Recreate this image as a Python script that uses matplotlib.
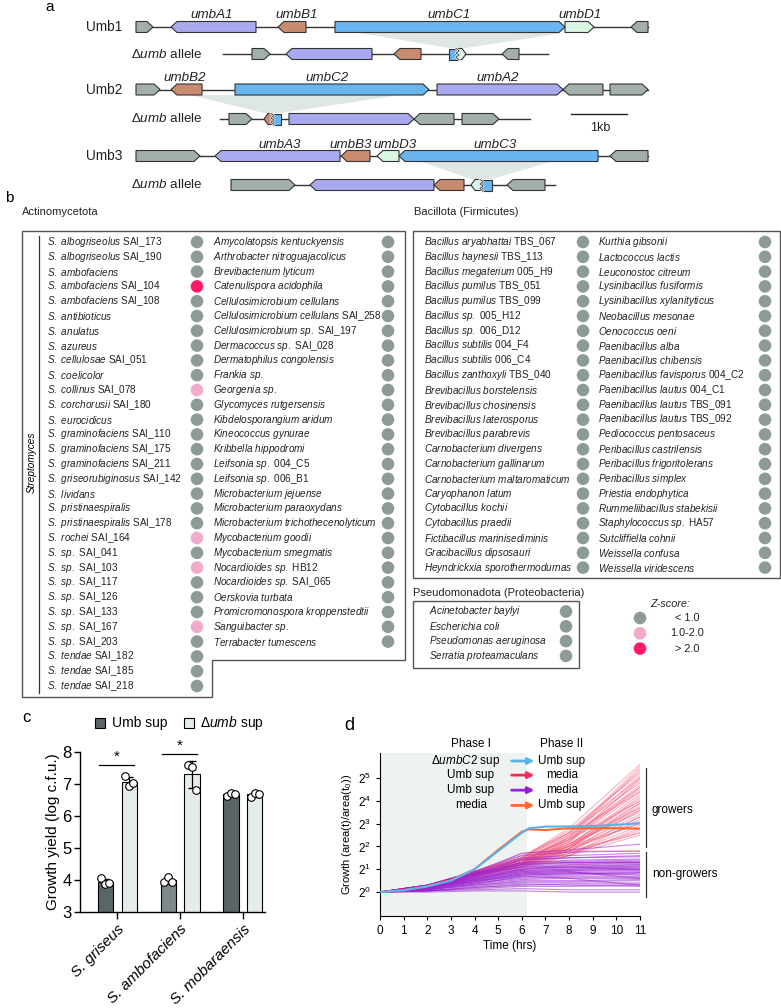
import numpy as np
import matplotlib
matplotlib.use('Agg')
from matplotlib import pyplot as plt
from matplotlib.patches import Polygon, Rectangle

plt.rcParams['font.family'] = ['Liberation Sans', 'DejaVu Sans']
plt.rcParams['mathtext.fontset'] = 'custom'
plt.rcParams['mathtext.rm'] = 'Liberation Sans'
plt.rcParams['mathtext.it'] = 'Liberation Sans:italic'
plt.rcParams['mathtext.bf'] = 'Liberation Sans:bold'

# ---------------- panel a: gene maps (start, end, direction, gene type) ----------------
umb1_genes = [(136, 153, 1, 'x'), (171, 256, -1, 'A'), (278, 306, -1, 'B'),
              (335, 565, 1, 'C'), (565, 594, 1, 'D'), (631, 648, -1, 'x')]
umb1_labels = [('umbA1', 212), ('umbB1', 297), ('umbC1', 449), ('umbD1', 580)]
del1_genes = [(252, 270, 1, 'x'), (286, 372, -1, 'A'), (394, 421, -1, 'B'), (502, 519, -1, 'x')]
del1_fused = (449, 466, 'C', 'D', 1)

umb2_genes = [(136, 160, 1, 'x'), (171, 202, -1, 'B'), (235, 429, 1, 'C'),
              (437, 563, 1, 'A'), (563, 603, -1, 'x'), (610, 648, 1, 'x')]
umb2_labels = [('umbB2', 185), ('umbC2', 327), ('umbA2', 498)]
del2_genes = [(229, 252, 1, 'x'), (289, 414, 1, 'A'), (414, 454, -1, 'x'), (462, 499, 1, 'x')]
del2_fused = (264, 281, 'B', 'C', -1)

umb3_genes = [(136, 200, 1, 'x'), (215, 340, -1, 'A'), (341, 370, -1, 'B'),
              (377, 399, -1, 'D'), (399, 598, -1, 'C'), (610, 648, -1, 'x')]
umb3_labels = [('umbA3', 280), ('umbB3', 351), ('umbD3', 395), ('umbC3', 495)]
del3_genes = [(231, 295, 1, 'x'), (310, 434, -1, 'A'), (434, 464, -1, 'B'), (507, 545, -1, 'x')]
del3_fused = (471, 492, 'D', 'C', -1)

gene_colors = {'x': '#a3afac', 'A': '#a9a9ef', 'B': '#c98b6f', 'C': '#69b5f0', 'D': '#d9f5e4'}

# ---------------- panel b: species screen ----------------
actino_left = [("S. albogriseolus", "SAI_173"), ("S. albogriseolus", "SAI_190"), ("S. ambofaciens", ""),
               ("S. ambofaciens", "SAI_104"), ("S. ambofaciens", "SAI_108"), ("S. antibioticus", ""),
               ("S. anulatus", ""), ("S. azureus", ""), ("S. cellulosae", "SAI_051"), ("S. coelicolor", ""),
               ("S. collinus", "SAI_078"), ("S. corchorusii", "SAI_180"), ("S. eurocidicus", ""),
               ("S. graminofaciens", "SAI_110"), ("S. graminofaciens", "SAI_175"),
               ("S. graminofaciens", "SAI_211"), ("S. griseorubiginosus", "SAI_142"), ("S. lividans", ""),
               ("S. pristinaespiralis", ""), ("S. pristinaespiralis", "SAI_178"), ("S. rochei", "SAI_164"),
               ("S. sp.", "SAI_041"), ("S. sp.", "SAI_103"), ("S. sp.", "SAI_117"), ("S. sp.", "SAI_126"),
               ("S. sp.", "SAI_133"), ("S. sp.", "SAI_167"), ("S. sp.", "SAI_203"),
               ("S. tendae", "SAI_182"), ("S. tendae", "SAI_185"), ("S. tendae", "SAI_218")]
actino_left_z = [0, 0, 0, 2, 0, 0, 0, 0, 0, 0, 1, 0, 0, 0, 0, 0, 0, 0, 0, 0, 1, 0, 1, 0, 0, 0, 1, 0, 0, 0, 0]
actino_right = [("Amycolatopsis kentuckyensis", ""), ("Arthrobacter nitroguajacolicus", ""),
                ("Brevibacterium lyticum", ""), ("Catenulispora acidophila", ""),
                ("Cellulosimicrobium cellulans", ""), ("Cellulosimicrobium cellulans", "SAI_258"),
                ("Cellulosimicrobium sp.", "SAI_197"), ("Dermacoccus sp.", "SAI_028"),
                ("Dermatophilus congolensis", ""), ("Frankia sp.", ""), ("Georgenia sp.", ""),
                ("Glycomyces rutgersensis", ""), ("Kibdelosporangium aridum", ""), ("Kineococcus gynurae", ""),
                ("Kribbella hippodromi", ""), ("Leifsonia sp.", "004_C5"), ("Leifsonia sp.", "006_B1"),
                ("Microbacterium jejuense", ""), ("Microbacterium paraoxydans", ""),
                ("Microbacterium trichothecenolyticum", ""), ("Mycobacterium goodii", ""),
                ("Mycobacterium smegmatis", ""), ("Nocardioides sp.", "HB12"), ("Nocardioides sp.", "SAI_065"),
                ("Oerskovia turbata", ""), ("Promicromonospora kroppenstedtii", ""), ("Sanguibacter sp.", ""),
                ("Terrabacter tumescens", "")]
actino_right_z = [0] * 28
bacillota_left = [("Bacillus aryabhattai", "TBS_067"), ("Bacillus haynesii", "TBS_113"),
                  ("Bacillus megaterium", "005_H9"), ("Bacillus pumilus", "TBS_051"),
                  ("Bacillus pumilus", "TBS_099"), ("Bacillus sp.", "005_H12"), ("Bacillus sp.", "006_D12"),
                  ("Bacillus subtilis", "004_F4"), ("Bacillus subtilis", "006_C4"),
                  ("Bacillus zanthoxyli", "TBS_040"), ("Brevibacillus borstelensis", ""),
                  ("Brevibacillus chosinensis", ""), ("Brevibacillus laterosporus", ""),
                  ("Brevibacillus parabrevis", ""), ("Carnobacterium divergens", ""),
                  ("Carnobacterium gallinarum", ""), ("Carnobacterium maltaromaticum", ""),
                  ("Caryophanon latum", ""), ("Cytobacillus kochii", ""), ("Cytobacillus praedii", ""),
                  ("Fictibacillus marinisediminis", ""), ("Gracibacillus dipsosauri", ""),
                  ("Heyndrickxia sporothermodurnas", "")]
bacillota_left_z = [0] * 23
bacillota_right = [("Kurthia gibsonii", ""), ("Lactococcus lactis", ""), ("Leuconostoc citreum", ""),
                   ("Lysinibacillus fusiformis", ""), ("Lysinibacillus xylanityticus", ""),
                   ("Neobacillus mesonae", ""), ("Oenococcus oeni", ""), ("Paenibacillus alba", ""),
                   ("Paenibacillus chibensis", ""), ("Paenibacillus favisporus", "004_C2"),
                   ("Paenibacillus lautus", "004_C1"), ("Paenibacillus lautus", "TBS_091"),
                   ("Paenibacillus lautus", "TBS_092"), ("Pediococcus pentosaceus", ""),
                   ("Peribacillus castrilensis", ""), ("Peribacillus frigoritolerans", ""),
                   ("Peribacillus simplex", ""), ("Priestia endophytica", ""),
                   ("Rummeliibacillus stabekisii", ""), ("Staphylococcus sp.", "HA57"),
                   ("Sutcliffiella cohnii", ""), ("Weissella confusa", ""), ("Weissella viridescens", "")]
bacillota_right_z = [0] * 23
pseudo = [("Acinetobacter baylyi", ""), ("Escherichia coli", ""), ("Pseudomonas aeruginosa", ""),
          ("Serratia proteamaculans", "")]
pseudo_z = [0] * 4
z_labels = ['< 1.0', '1.0-2.0', '> 2.0']
z_colors = ['#8d9b98', '#f2aacb', '#ff1a66']

# ---------------- panel c: growth yield ----------------
strains = ['S. griseus', 'S. ambofaciens', 'S. mobaraensis']
umb_reps = [[4.05, 3.87, 3.92], [3.95, 4.10, 3.95], [6.62, 6.73, 6.68]]
del_reps = [[7.25, 6.95, 7.02], [7.58, 7.52, 6.82], [6.60, 6.73, 6.69]]
umb_bar_colors = ['#5c6566', '#7d898a', '#5c6566']

# ---------------- panel d: single-colony growth (log2 of area ratio) ----------------
t_pts = [0, 2, 4, 6, 8, 11]
growers = [
    [0, .30, .90, 1.5, 2.8, 5.6], [0, .25, .80, 1.4, 2.6, 5.3], [0, .30, .85, 1.3, 2.4, 5.1],
    [0, .20, .70, 1.2, 2.3, 4.9], [0, .30, .90, 1.6, 2.6, 4.8], [0, .25, .75, 1.3, 2.2, 4.6],
    [0, .20, .80, 1.4, 2.3, 4.5], [0, .30, .85, 1.2, 2.0, 4.3], [0, .25, .70, 1.1, 1.9, 4.2],
    [0, .30, .90, 1.5, 2.3, 4.0], [0, .20, .75, 1.3, 2.0, 3.9], [0, .25, .80, 1.2, 1.9, 3.8],
    [0, .30, .70, 1.1, 1.8, 3.6], [0, .20, .80, 1.4, 2.1, 3.5], [0, .25, .85, 1.3, 1.9, 3.4],
    [0, .30, .75, 1.2, 1.8, 3.3], [0, .20, .70, 1.0, 1.6, 3.2], [0, .25, .80, 1.3, 1.8, 3.1],
    [0, .30, .90, 1.5, 2.0, 3.0], [0, .20, .75, 1.2, 1.7, 2.9], [0, .25, .70, 1.1, 1.6, 2.8],
    [0, .30, .80, 1.3, 1.7, 2.7], [0, .20, .85, 1.4, 1.8, 2.6], [0, .25, .70, 1.2, 1.6, 2.5],
    [0, .30, .80, 1.4, 2.2, 5.0], [0, .20, .75, 1.3, 2.4, 5.4], [0, .25, .90, 1.5, 2.5, 4.4],
    [0, .30, .80, 1.2, 2.1, 4.1], [0, .20, .70, 1.3, 2.1, 3.7], [0, .25, .85, 1.4, 2.0, 3.6],
    [0, .25, .80, 1.3, 2.5, 5.5], [0, .30, .85, 1.4, 2.3, 4.7], [0, .20, .75, 1.2, 1.9, 3.9],
    [0, .25, .85, 1.5, 2.7, 5.2], [0, .30, .80, 1.4, 2.4, 4.6], [0, .20, .70, 1.2, 2.2, 4.4],
    [0, .25, .75, 1.3, 2.1, 4.0], [0, .30, .85, 1.3, 2.0, 3.7], [0, .20, .80, 1.2, 1.8, 3.3],
    [0, .25, .75, 1.4, 1.9, 3.0], [0, .30, .80, 1.5, 2.6, 5.0], [0, .20, .70, 1.1, 1.7, 2.6],
    [0, .20, .60, 1.0, 1.2, 1.3], [0, .30, .80, 1.7, 1.8, 1.8], [0, .25, .70, 1.25, 1.3, 1.3],
]
non_growers = [
    [0, .30, .90, 1.6, 1.75, 1.8], [0, .25, .85, 1.5, 1.6, 1.7], [0, .30, .80, 1.4, 1.5, 1.55],
    [0, .20, .75, 1.3, 1.4, 1.45], [0, .25, .70, 1.2, 1.3, 1.35], [0, .20, .70, 1.15, 1.2, 1.25],
    [0, .30, .80, 1.1, 1.15, 1.2], [0, .20, .65, 1.0, 1.1, 1.1], [0, .25, .60, .95, 1.0, 1.05],
    [0, .20, .60, .90, .95, 1.0], [0, .15, .55, .85, .90, .95], [0, .20, .50, .80, .85, .90],
    [0, .15, .50, .75, .80, .85], [0, .20, .45, .70, .75, .80], [0, .10, .40, .65, .70, .70],
    [0, .15, .40, .60, .65, .65], [0, .10, .35, .55, .60, .60], [0, .10, .30, .50, .50, .55],
    [0, .10, .30, .45, .45, .50], [0, .05, .25, .40, .40, .40], [0, .05, .20, .30, .35, .35],
    [0, .05, .15, .25, .25, .30], [0, .05, .10, .15, .10, .10], [0, 0, .05, .05, 0, 0],
    [0, .25, .80, 1.3, 1.35, 1.4], [0, .20, .75, 1.25, 1.3, 1.3], [0, .30, .90, 1.7, 1.85, 2.1],
    [0, .20, .60, 1.0, 1.05, 1.15], [0, .25, .70, 1.1, 1.1, 1.2], [0, .15, .55, .90, .95, 1.0],
    [0, .20, .65, 1.05, 1.1, 1.0], [0, .10, .45, .80, .85, .75], [0, .15, .50, .85, .90, .60],
    [0, .10, .35, .70, .60, .30], [0, .30, .85, 1.2, 1.25, 1.3], [0, .20, .55, .95, 1.0, 1.1],
    [0, .25, .80, 1.45, 1.5, 1.6], [0, .15, .45, .75, .80, .85], [0, .05, .20, .35, .30, .25],
]
t_ctrl = [0, 1, 2, 3, 4, 5, 6, 6.3, 7, 8, 9, 10, 11]
blue_trace = [0, .08, .25, .50, 1.0, 1.8, 2.6, 2.8, 2.87, 2.88, 2.9, 2.95, 3.02]
orange_trace = [0, .08, .25, .52, 1.0, 1.85, 2.65, 2.75, 2.72, 2.8, 2.8, 2.8, 2.78]
phase_rows = [(r'$\Delta\mathit{umbC2}$ sup', 'Umb sup', '#5ab4ea'),
              ('Umb sup', 'media', '#ff2a5c'),
              ('Umb sup', 'media', '#9a1fd6'),
              ('media', 'Umb sup', '#ff6a2a')]


def it(s):
    return '$\\mathit{' + s.replace(' ', '\\ ') + '}$'


def gene_poly(ax, x0, x1, y, d, color, h=11):
    hl = min(6, (x1 - x0) * 0.4)
    if d > 0:
        pts = [(x0, y - h / 2), (x1 - hl, y - h / 2), (x1, y), (x1 - hl, y + h / 2), (x0, y + h / 2)]
    else:
        pts = [(x1, y - h / 2), (x0 + hl, y - h / 2), (x0, y), (x0 + hl, y + h / 2), (x1, y + h / 2)]
    ax.add_patch(Polygon(pts, closed=True, facecolor=color, edgecolor='#333333', lw=0.8, zorder=3))


def fused(ax, spec, y, h=11):
    x0, x1, c_left, c_right, d = spec
    xm = (x0 + x1) / 2
    hl = 4
    if d > 0:
        left = [(x0, y - h / 2), (xm, y - h / 2), (xm, y + h / 2), (x0, y + h / 2)]
        right = [(xm, y - h / 2), (x1 - hl, y - h / 2), (x1, y), (x1 - hl, y + h / 2), (xm, y + h / 2)]
    else:
        left = [(xm, y - h / 2), (x0 + hl, y - h / 2), (x0, y), (x0 + hl, y + h / 2), (xm, y + h / 2)]
        right = [(xm, y - h / 2), (x1, y - h / 2), (x1, y + h / 2), (xm, y + h / 2)]
    ax.add_patch(Polygon(left, closed=True, facecolor=gene_colors[c_left], edgecolor='#333333', lw=0.8, zorder=3))
    ax.add_patch(Polygon(right, closed=True, facecolor=gene_colors[c_right], edgecolor='#333333', lw=0.8, zorder=3))
    zy = np.linspace(y - h / 2, y + h / 2, 6)
    zx = [xm + (1.6 if k % 2 else -1.6) for k in range(6)]
    ax.plot(zx, zy, color='white', lw=1.6, zorder=4)
    ax.plot(zx, zy, color='#333333', lw=0.6, zorder=5)


def gene_row(ax, genes, y, x_from, x_to):
    ax.plot([x_from, x_to], [y, y], color='#333333', lw=1, zorder=2)
    for (x0, x1, d, g) in genes:
        gene_poly(ax, x0, x1, y, d, gene_colors[g])


def species_col(ax, names, zs, x_text, x_dot, y0, dy=14.8):
    for i, ((a, b), z) in enumerate(zip(names, zs)):
        y = y0 + i * dy
        lab = it(a) + (' ' + b if b else '')
        ax.text(x_text, y, lab, fontsize=7.2, va='center', ha='left', color='#222222')
        ax.scatter([x_dot], [y], s=82, color=z_colors[z], edgecolors='none', zorder=3)


fig = plt.figure(figsize=(7.81, 10.08), dpi=100)
ax0 = fig.add_axes([0, 0, 1, 1])
ax0.set_xlim(0, 781)
ax0.set_ylim(1008, 0)
ax0.axis('off')

# ---- panel a ----
ax0.text(50, 7, 'a', fontsize=11, va='center', ha='center')
shade_color = '#dfe7e4'
for pts in ([(360, 33), (563, 33), (466, 48), (449, 48)],
            [(190, 95), (400, 95), (281, 113), (264, 113)],
            [(422, 162), (550, 162), (492, 179), (471, 179)]):
    ax0.add_patch(Polygon(pts, closed=True, facecolor=shade_color, edgecolor='none', zorder=1))

gene_row(ax0, umb1_genes, 27, 136, 648)
gene_row(ax0, del1_genes, 54, 223, 548)
fused(ax0, del1_fused, 54)
gene_row(ax0, umb2_genes, 89.5, 136, 648)
gene_row(ax0, del2_genes, 119, 220, 530)
fused(ax0, del2_fused, 119)
gene_row(ax0, umb3_genes, 156, 136, 648)
gene_row(ax0, del3_genes, 185, 231, 555)
fused(ax0, del3_fused, 185)

for lab_list, y in ((umb1_labels, 14.5), (umb2_labels, 78), (umb3_labels, 145)):
    for name, x in lab_list:
        ax0.text(x, y, name, fontsize=9.6, style='italic', ha='center', va='center', color='#222222')
for name, y in (('Umb1', 27), ('Umb2', 89.5), ('Umb3', 156)):
    ax0.text(122, y, name, fontsize=9.8, ha='right', va='center', color='#222222')
for y in (54, 119, 185):
    ax0.text(202, y, r'$\Delta\mathit{umb}$ allele', fontsize=9.6, ha='right', va='center', color='#222222')
ax0.plot([571, 627], [114, 114], color='#222222', lw=1)
ax0.text(600, 128, '1kb', fontsize=9, ha='center', va='center', color='#222222')

# ---- panel b ----
ax0.text(5, 198, 'b', fontsize=11, va='center', ha='left')
ax0.text(22, 212, 'Actinomycetota', fontsize=8, va='center', ha='left', color='#222222')
ax0.text(414, 212, 'Bacillota (Firmicutes)', fontsize=8, va='center', ha='left', color='#222222')
ax0.add_patch(Polygon([(22, 231), (405, 231), (405, 660), (212, 660), (212, 697), (22, 697)],
                      closed=True, facecolor='none', edgecolor='#555555', lw=1))
ax0.add_patch(Rectangle((413, 231), 367, 347, facecolor='none', edgecolor='#555555', lw=1))
ax0.plot([39, 39], [236, 693], color='#333333', lw=0.9)
ax0.text(32, 462, 'Streptomyces', fontsize=7.2, style='italic', rotation=90, ha='center', va='center')
species_col(ax0, actino_left, actino_left_z, 47, 197, 242)
species_col(ax0, actino_right, actino_right_z, 213, 388, 242)
species_col(ax0, bacillota_left, bacillota_left_z, 424, 583, 242)
species_col(ax0, bacillota_right, bacillota_right_z, 598, 765, 242)
ax0.text(413, 593, 'Pseudomonadota (Proteobacteria)', fontsize=8, va='center', ha='left', color='#222222')
ax0.add_patch(Rectangle((413, 601), 166, 67, facecolor='none', edgecolor='#555555', lw=1))
species_col(ax0, pseudo, pseudo_z, 429, 566, 611.5)
ax0.text(670, 604, 'Z-score:', fontsize=7.8, style='italic', ha='center', va='center', color='#222222')
for k, (lab, col) in enumerate(zip(z_labels, z_colors)):
    y = 618 + k * 15.3
    ax0.scatter([640], [y], s=82, color=col, edgecolors='none')
    ax0.text(687, y, lab, fontsize=7.8, ha='center', va='center', color='#222222')

# ---- panel c ----
ax0.text(22, 718, 'c', fontsize=12, va='center', ha='left')
ax0.add_patch(Rectangle((95, 718), 10, 10, facecolor='#5c6566', edgecolor='black', lw=0.8))
ax0.text(112, 723, 'Umb sup', fontsize=10, va='center', ha='left')
ax0.add_patch(Rectangle((184, 718), 10, 10, facecolor='#e6ecea', edgecolor='black', lw=0.8))
ax0.text(200, 723, r'$\Delta\mathit{umb}$ sup', fontsize=10, va='center', ha='left')

axc = fig.add_axes([80 / 781, (1008 - 912) / 1008, 185 / 781, 160 / 1008])
xg = np.arange(len(strains))
bw = 0.24
off = 0.19
umb_mean = [np.mean(r) for r in umb_reps]
del_mean = [np.mean(r) for r in del_reps]
umb_sd = [np.std(r, ddof=1) for r in umb_reps]
del_sd = [np.std(r, ddof=1) for r in del_reps]
axc.bar(xg - off, umb_mean, bw, color=umb_bar_colors, edgecolor='black', lw=0.8, zorder=2)
axc.bar(xg + off, del_mean, bw, color='#e6ecea', edgecolor='black', lw=0.8, zorder=2)
axc.errorbar(xg - off, umb_mean, yerr=umb_sd, fmt='none', ecolor='black', elinewidth=0.9, capsize=3, zorder=3)
axc.errorbar(xg + off, del_mean, yerr=del_sd, fmt='none', ecolor='black', elinewidth=0.9, capsize=3, zorder=3)
jit = [-0.06, 0.0, 0.06]
for i in range(len(strains)):
    axc.scatter(i - off + np.array(jit), umb_reps[i], s=30, facecolor='white', edgecolor='black', lw=0.8, zorder=4)
    axc.scatter(i + off + np.array(jit), del_reps[i], s=30, facecolor='white', edgecolor='black', lw=0.8, zorder=4)
for i, ys in ((0, 7.6), (1, 7.95)):
    axc.plot([i - 0.29, i + 0.27], [ys, ys], color='black', lw=0.9, clip_on=False)
    axc.text(i, ys + 0.03, '*', fontsize=11, ha='center', va='bottom')
axc.set_ylim(3, 8)
axc.set_xlim(-0.59, 2.35)
axc.set_yticks([3, 4, 5, 6, 7, 8])
axc.set_xticks(xg)
axc.set_xticklabels(strains, rotation=45, ha='right', rotation_mode='anchor', fontsize=11, style='italic')
axc.tick_params(axis='y', labelsize=12, width=1, length=4, pad=2)
axc.tick_params(axis='x', width=1, length=5, pad=2)
axc.set_ylabel('Growth yield (log c.f.u.)', fontsize=11, labelpad=2)
for s in ('top', 'right'):
    axc.spines[s].set_visible(False)
for s in ('left', 'bottom'):
    axc.spines[s].set_linewidth(1)

# ---- panel d ----
ax0.text(349, 725, 'd', fontsize=13, va='center', ha='center')
axd = fig.add_axes([380 / 781, (1008 - 916) / 1008, 260 / 781, 163 / 1008])
axd.axvspan(0, 6.2, color='#eef2f1', zorder=0, lw=0)
for tr in growers:
    axd.plot(t_pts, tr, color='#f25a7c', alpha=0.45, lw=0.8, zorder=1)
for tr in non_growers:
    axd.plot(t_pts, tr, color='#9a22d2', alpha=0.55, lw=0.8, zorder=2)
axd.plot(t_ctrl, orange_trace, color='#ff6a2a', lw=1.5, zorder=4)
axd.plot(t_ctrl, blue_trace, color='#5ab4ea', lw=1.5, zorder=5)
axd.set_xlim(0, 11)
axd.set_ylim(-1.05, 6.1)
axd.set_xticks(range(12))
axd.set_yticks(range(6))
axd.set_yticklabels(['$2^{%d}$' % k for k in range(6)])
axd.tick_params(labelsize=8.5, width=0.8, length=3)
axd.set_xlabel('Time (hrs)', fontsize=8.5, labelpad=2)
axd.set_ylabel('Growth (area(t)/area(t$_0$))', fontsize=8, labelpad=3)
for s in ('top', 'right'):
    axd.spines[s].set_visible(False)
axd.text(3.85, 6.5, 'Phase I', fontsize=8.5, ha='center', va='center')
axd.text(7.7, 6.5, 'Phase II', fontsize=8.5, ha='center', va='center')
row_y = [5.75, 5.13, 4.47, 3.8]
for (left, right, col), y in zip(phase_rows, row_y):
    if left.startswith('$'):
        axd.text(5.1, y, left, fontsize=8.5, ha='right', va='center', zorder=6)
    else:
        axd.text(3.85, y, left, fontsize=8.5, ha='center', va='center', zorder=6)
    axd.text(7.7, y, right, fontsize=8.5, ha='center', va='center', zorder=6)
    axd.annotate('', xy=(6.65, y), xytext=(5.45, y),
                 arrowprops=dict(arrowstyle='-|>', color=col, lw=2, mutation_scale=9), zorder=6)
axd.plot([11.25, 11.25], [5.44, 1.97], color='#333333', lw=0.9, clip_on=False)
axd.plot([11.25, 11.25], [1.75, -0.22], color='#333333', lw=0.9, clip_on=False)
axd.text(11.5, 3.6, 'growers', fontsize=8.5, ha='left', va='center')
axd.text(11.5, 0.8, 'non-growers', fontsize=8.5, ha='left', va='center')

fig.savefig('out.png', dpi=100)
